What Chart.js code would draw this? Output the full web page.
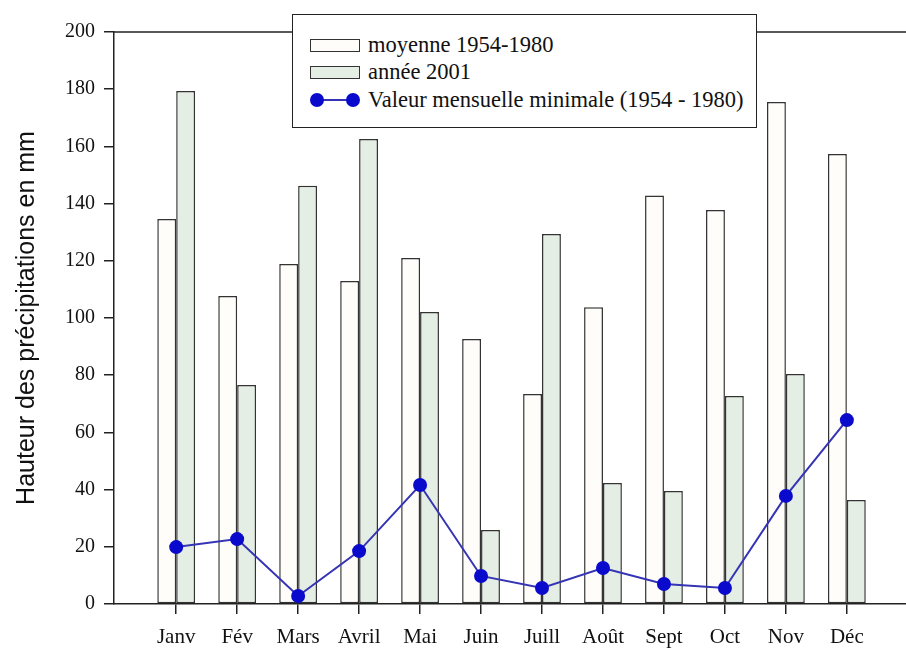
<!DOCTYPE html>
<html>
<head>
<meta charset="utf-8">
<script src="https://cdn.jsdelivr.net/npm/chart.js@4.4.1/dist/chart.umd.min.js"></script>
<style>
  html, body { margin: 0; padding: 0; background: #fff; overflow: hidden; }
  #wrap { position: relative; width: 906px; height: 648px; }
  canvas { display: block; }
  #legend {
    position: absolute; left: 292px; top: 14px; width: 463px; height: 112px;
    border: 1.5px solid #222; background: #fff;
    font-family: "Liberation Serif", "DejaVu Serif", serif; font-size: 22.5px; color: #111;
  }
  .row { position: absolute; left: 17px; height: 24px; display: flex; align-items: center; }
  .sw { width: 50px; height: 13px; border: 1.5px solid #333; box-sizing: border-box; margin-right: 8px; }
  .ln { position: relative; width: 50px; height: 16px; margin-right: 8px; }
  .ln .bar { position: absolute; left: 7px; right: 7px; top: 7px; height: 2px; }
  .ln .dot { position: absolute; top: 1px; width: 14px; height: 14px; border-radius: 50%; }
</style>
</head>
<body>
<div id="wrap">
  <canvas id="chart" width="906" height="648"></canvas>
  <div id="legend"></div>
</div>
<script>
// data
const months = ["Janv", "Fév", "Mars", "Avril", "Mai", "Juin", "Juill", "Août", "Sept", "Oct", "Nov", "Déc"];
const moyenne = [134.6, 107.7, 118.9, 112.9, 121, 92.7, 73.4, 103.8, 142.8, 137.8, 175.5, 157.3];
const annee2001 = [179.4, 76.6, 146.2, 162.6, 102.1, 25.9, 129.4, 42.3, 39.5, 72.7, 80.4, 36.4];
const minimale = [19.9, 22.7, 2.8, 18.5, 41.6, 9.8, 5.6, 12.6, 7, 5.6, 37.8, 64.3];
const yTicks = [0, 20, 40, 60, 80, 100, 120, 140, 160, 180, 200];

const toPoints = arr => arr.map((v, i) => ({ x: i, y: v }));

// top frame line of the plot
const frameTop = {
    id: "frameTop",
    afterDraw(chart) {
        const { ctx, chartArea } = chart;
        ctx.save();
        ctx.strokeStyle = "#222";
        ctx.lineWidth = 1.5;
        ctx.beginPath();
        ctx.moveTo(chartArea.left, chartArea.top);
        ctx.lineTo(chartArea.right, chartArea.top);
        ctx.stroke();
        ctx.restore();
    }
};

const chart = new Chart(document.getElementById("chart"), {
    data: {
        datasets: [
            {
                type: "line",
                label: "Valeur mensuelle minimale (1954 - 1980)",
                data: toPoints(minimale),
                borderColor: "#3434b4",
                borderWidth: 2,
                pointRadius: 7,
                pointBackgroundColor: "#0a0acc",
                pointBorderColor: "#0a0acc",
                pointBorderWidth: 0,
                tension: 0,
                clip: false,
                order: 0
            },
            {
                type: "bar",
                label: "moyenne 1954-1980",
                data: toPoints(moyenne),
                backgroundColor: "#fffdfa",
                borderColor: "#333",
                borderWidth: 1.5,
                borderSkipped: false,
                categoryPercentage: 0.62,
                barPercentage: 1,
                order: 1
            },
            {
                type: "bar",
                label: "année 2001",
                data: toPoints(annee2001),
                backgroundColor: "#e5eee4",
                borderColor: "#333",
                borderWidth: 1.5,
                borderSkipped: false,
                categoryPercentage: 0.62,
                barPercentage: 1,
                order: 1
            }
        ]
    },
    options: {
        responsive: false,
        animation: false,
        layout: { autoPadding: false, padding: { top: 32, right: 0, left: 0, bottom: 0 } },
        plugins: {
            legend: { display: false },
            tooltip: { enabled: false }
        },
        scales: {
            x: {
                type: "linear",
                offset: false,
                min: -1.02,
                max: 11.97,
                afterBuildTicks(scale) {
                    scale.ticks = months.map((m, i) => ({ value: i }));
                },
                afterFit(scale) {
                    scale.height = 44;
                    scale.paddingLeft = 0;
                    scale.paddingRight = 0;
                },
                ticks: {
                    callback: v => months[v],
                    color: "#111",
                    padding: 11,
                    maxRotation: 0,
                    autoSkip: false,
                    font: { family: "'Liberation Serif', serif", size: 21 }
                },
                grid: { offset: false, drawOnChartArea: false, tickLength: 10, color: "#222", lineWidth: 1.5 },
                border: { color: "#222", width: 1.5 }
            },
            y: {
                min: 0,
                max: 200,
                afterBuildTicks(scale) {
                    scale.ticks = yTicks.map(v => ({ value: v }));
                },
                afterFit(scale) { scale.width = 114; },
                ticks: {
                    color: "#111",
                    padding: 9,
                    font: { family: "'Liberation Serif', serif", size: 20 }
                },
                grid: { drawOnChartArea: false, tickLength: 10, color: "#222", lineWidth: 1.5 },
                border: { color: "#222", width: 1.5 },
                title: {
                    display: true,
                    text: "Hauteur des précipitations en mm",
                    color: "#111",
                    padding: { top: 12, bottom: 0 },
                    font: { family: "'Liberation Sans', Arial, sans-serif", size: 25 }
                }
            }
        }
    },
    plugins: [frameTop]
});

// legend box, built from the datasets (bars first, then the line)
const legendEl = document.getElementById("legend");
const rowTops = [18, 45, 73];
const legendOrder = [1, 2, 0];
legendOrder.forEach((di, k) => {
    const ds = chart.data.datasets[di];
    const row = document.createElement("div");
    row.className = "row";
    row.style.top = rowTops[k] + "px";
    if (ds.type === "bar") {
        row.innerHTML = `<div class="sw" style="background:${ds.backgroundColor}"></div>`;
    } else {
        row.innerHTML = `<div class="ln"><div class="bar" style="background:${ds.borderColor}"></div>` +
            `<div class="dot" style="left:0;background:${ds.pointBackgroundColor}"></div>` +
            `<div class="dot" style="right:0;background:${ds.pointBackgroundColor}"></div></div>`;
    }
    const span = document.createElement("span");
    span.textContent = ds.label;
    row.appendChild(span);
    legendEl.appendChild(row);
});
</script>
</body>
</html>
